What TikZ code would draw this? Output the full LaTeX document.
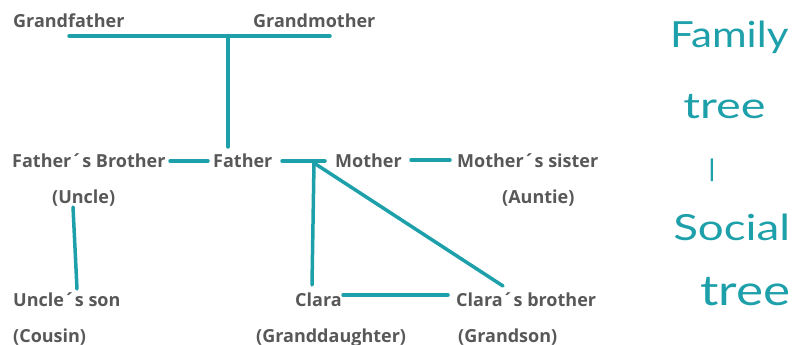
\documentclass[tikz,border=0pt]{standalone}
\usepackage{fontspec}
\setmainfont{Open Sans}
\newfontfamily\handfont{Lato}
\definecolor{teal1}{RGB}{30,160,170}
\definecolor{txtgray}{RGB}{88,88,88}
\begin{document}
\begin{tikzpicture}[x=1pt,y=-1pt,
  lbl/.style={anchor=base west, inner sep=0pt, text=txtgray, font=\fontsize{18}{20}\selectfont\bfseries},
  link/.style={draw=teal1, line width=3.5pt, line cap=round},
  hand/.style={anchor=base west, inner sep=0pt, text=teal1, font=\handfont\fontsize{36}{40}\selectfont}]
\useasboundingbox (0,0) rectangle (796,345);
% people
\node[lbl] (gf) at (13,28) {Grandfather};
\node[lbl] (gm) at (253,28) {Grandmother};
\node[lbl] (fb) at (12,167) {Father´s Brother};
\node[lbl] (fa) at (213,167) {Father};
\node[lbl] (mo) at (335,167) {Mother};
\node[lbl] (ms) at (457,167) {Mother´s sister};
\node[lbl] (un) at (52,203) {(Uncle)};
\node[lbl] (au) at (502,203) {(Auntie)};
\node[lbl] (us) at (13,306) {Uncle´s son};
\node[lbl] (co) at (13,342) {(Cousin)};
\node[lbl] (cl) at (295,306) {Clara};
\node[lbl] (cb) at (456,306) {Clara´s brother};
\node[lbl] (gd) at (256,342) {(Granddaughter)};
\node[lbl] (gs) at (458,342) {(Grandson)};
% connector points
\coordinate (gl) at (69,36);
\coordinate (gr) at (330,36);
\coordinate (gj) at (228,36);
\coordinate (fj) at (228,147);
\coordinate (fbr) at (170,161);
\coordinate (fal) at (208,161);
\coordinate (far) at (282,161);
\coordinate (mol) at (325,161);
\coordinate (pj) at (314,163);
\coordinate (clt) at (312,285);
\coordinate (cbt) at (503,286);
\coordinate (mor) at (411,160);
\coordinate (msl) at (450,160);
\coordinate (unb) at (73,207);
\coordinate (ust) at (77,289);
\coordinate (clr) at (343,295);
\coordinate (cbl) at (448,295);
% connectors
\draw[link] (gl) -- (gr);
\draw[link] (gj) -- (fj);
\draw[link] (fbr) -- (fal);
\draw[link] (far) -- (mol);
\draw[link] (pj) -- (clt);
\draw[link] (pj) -- (cbt);
\draw[link] (mor) -- (msl);
\draw[link] (unb) -- (ust);
\draw[link] (clr) -- (cbl);
% handwritten title
\node[hand, xscale=1.17] (t1) at (670,48) {Family};
\node[hand, xscale=1.3] (t2) at (683,118) {tree};
\node[hand, anchor=center, font=\handfont\bfseries\fontsize{24}{26}\selectfont] (t3) at (712,170) {|};
\node[hand, xscale=1.27] (t4) at (673,240) {Social};
\node[hand, xscale=1.22, font=\handfont\fontsize{42}{46}\selectfont] (t5) at (700,305) {tree};
\end{tikzpicture}
\end{document}
